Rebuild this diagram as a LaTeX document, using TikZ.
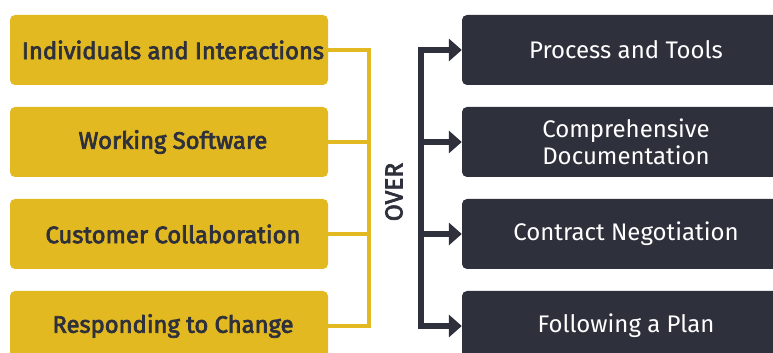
\documentclass[tikz,border=0pt]{standalone}
\usepackage{fontspec}
\setmainfont{Fira Sans}
\newfontfamily\semib{Fira Sans}[FakeBold=3]
\usetikzlibrary{arrows.meta}
\definecolor{agyellow}{HTML}{E2B920}
\definecolor{agdark}{HTML}{2E303B}
\tikzset{
  leftbox/.style={fill=agyellow, rounded corners=5pt, minimum width=318pt, minimum height=70pt, inner sep=0pt, text=agdark, font=\fontsize{23.8}{27}\selectfont\semib, align=center, execute at begin node={\hspace*{8pt}}},
  rightbox/.style={fill=agdark, rounded corners=5pt, minimum width=328pt, minimum height=70pt, inner sep=0pt, text=white, font=\fontsize{24}{27}\selectfont, align=center},
  yline/.style={draw=agyellow, line width=4.5pt, line join=miter},
  dline/.style={draw=agdark, line width=5.5pt, line join=miter},
  tip/.style={-{Triangle[length=13pt,width=22pt]}},
  bothtip/.style={{Triangle[length=13pt,width=22pt]}-{Triangle[length=13pt,width=22pt]}}
}
\begin{document}
\begin{tikzpicture}[x=1pt,y=1pt]
\useasboundingbox (0,0) rectangle (773,353);
\node[leftbox] (L1) at (169,303) {Individuals and Interactions};
\node[leftbox] (L2) at (169,211) {Working Software};
\node[leftbox] (L3) at (169,119) {Customer Collaboration};
\node[leftbox] (L4) at (169,27) {Responding to Change};
\node[rightbox] (R1) at (626,303) {Process and Tools};
\node[rightbox] (R2) at (626,211) {Comprehensive\\Documentation};
\node[rightbox] (R3) at (626,119) {Contract Negotiation};
\node[rightbox] (R4) at (626,27) {Following a Plan};
\coordinate (ybar) at (369,0);
\coordinate (dbar) at (421,0);
\draw[yline] (L1.east) -- (L1.east -| ybar) -- (L4.east -| ybar) -- (L4.east);
\draw[yline] (L2.east) -- (L2.east -| ybar);
\draw[yline] (L3.east) -- (L3.east -| ybar);
\draw[dline,bothtip] (R1.west) -- (R1.west -| dbar) -- (R4.west -| dbar) -- (R4.west);
\draw[dline,tip] (R2.west -| dbar) -- (R2.west);
\draw[dline,tip] (R3.west -| dbar) -- (R3.west);
\node[rotate=90, text=agdark, font=\fontsize{24.5}{27}\selectfont\semib, inner sep=0pt] (over) at (394,161) {OVER};
\end{tikzpicture}
\end{document}
